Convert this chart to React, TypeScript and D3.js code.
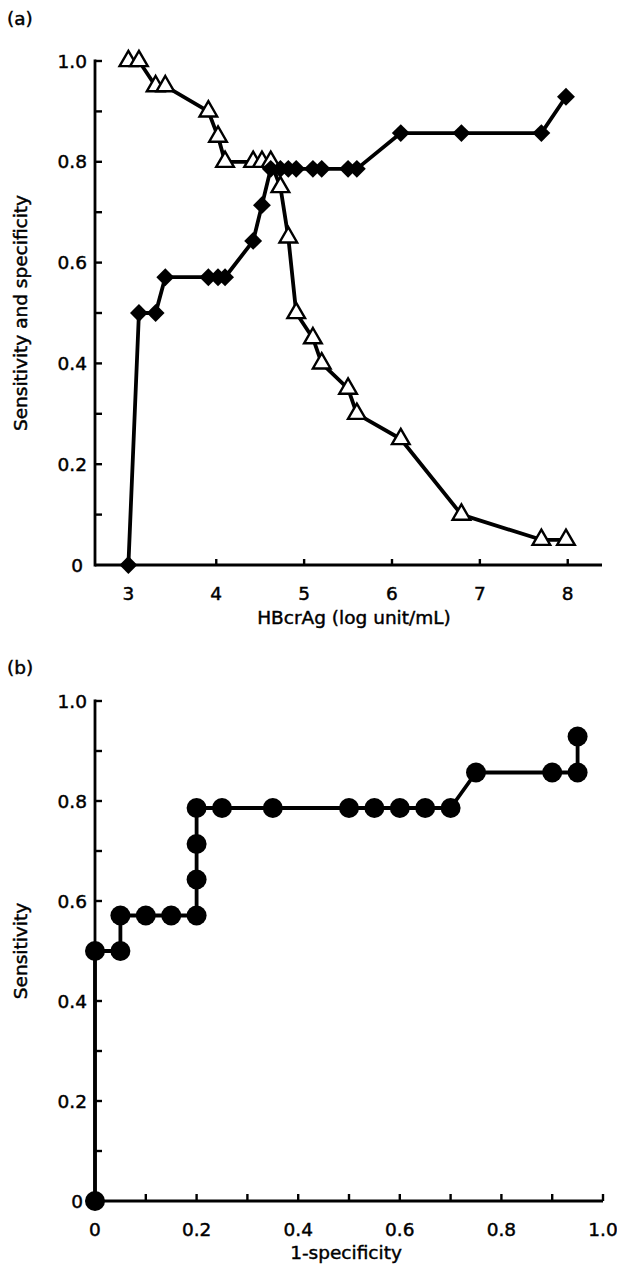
import React from 'react';
import * as d3 from 'd3';

// cut-off values (log unit/mL) shared by both curves of panel (a)
const cutoffs = [3.0, 3.12, 3.31, 3.42, 3.91, 4.02, 4.1, 4.42, 4.52, 4.62, 4.73, 4.82, 4.91, 5.1, 5.2, 5.5, 5.6, 6.1, 6.79, 7.7, 7.98];
const sensitivity = [0, 0.5, 0.5, 0.571, 0.571, 0.571, 0.571, 0.643, 0.714, 0.786, 0.786, 0.786, 0.786, 0.786, 0.786, 0.786, 0.786, 0.857, 0.857, 0.857, 0.929];
const specificity = [1.0, 1.0, 0.95, 0.95, 0.9, 0.85, 0.8, 0.8, 0.8, 0.8, 0.75, 0.65, 0.5, 0.45, 0.4, 0.35, 0.3, 0.25, 0.1, 0.05, 0.05];

const xTicksA = [3, 4, 5, 6, 7, 8];
const yTicks = [0, 0.1, 0.2, 0.3, 0.4, 0.5, 0.6, 0.7, 0.8, 0.9, 1.0];
const xTicksB = [0, 0.1, 0.2, 0.3, 0.4, 0.5, 0.6, 0.7, 0.8, 0.9, 1.0];

const FONT = '"DejaVu Sans", Arial, Helvetica, sans-serif';
const FS = 18.5;
const W = 617;
const H = 1267;

// scanned print look: slightly heavier glyphs
const txt = { fontSize: FS, fontFamily: FONT, fill: '#000', stroke: '#000', strokeWidth: 0.45 };

const fmtY = (v: number) => (v === 0 ? '0' : v.toFixed(1));
const isMajor = (v: number) => Math.abs(Math.round(v * 10) % 2) === 0;

const YAxis: React.FC<{ y: d3.ScaleLinear<number, number>; x0: number }> = ({ y, x0 }) => (
  <g>
    <line x1={x0} x2={x0} y1={y(0)} y2={y(1)} stroke="#000" strokeWidth={2.8} strokeLinecap="square" />
    {yTicks.map((t) => (
      <g key={t}>
        {t > 0 && <line x1={x0} x2={x0 + 7} y1={y(t)} y2={y(t)} stroke="#000" strokeWidth={2.4} />}
        {isMajor(t) && (
          <text x={x0 - (t === 0 ? 12 : 8)} y={y(t)} dy="0.36em" textAnchor="end" {...txt}>
            {fmtY(t)}
          </text>
        )}
      </g>
    ))}
  </g>
);

const App: React.FC = () => {
  // panel (a)
  const xa = d3.scaleLinear().domain([2.62, 8.39]).range([95, 602]);
  const ya = d3.scaleLinear().domain([0, 1]).range([565, 61]);
  // panel (b)
  const xb = d3.scaleLinear().domain([0, 1]).range([95, 603]);
  const yb = d3.scaleLinear().domain([0, 1]).range([1201, 701]);

  const sensPts = cutoffs.map((c, i) => [c, sensitivity[i]] as [number, number]);
  const specPts = cutoffs.map((c, i) => [c, specificity[i]] as [number, number]);
  const rocPts = cutoffs.map((_, i) => [1 - specificity[i], sensitivity[i]] as [number, number]);

  const lineA = d3.line<[number, number]>().x((d) => xa(d[0])).y((d) => ya(d[1]));
  const lineB = d3.line<[number, number]>().x((d) => xb(d[0])).y((d) => yb(d[1]));

  const tri = d3.symbol().type(d3.symbolTriangle).size(135)()!;
  const sq = d3.symbol().type(d3.symbolSquare).size(160)()!;

  return (
    <svg width={W} height={H} style={{ position: 'absolute', left: 0, top: 0, background: '#fff' }}>
      <rect width={W} height={H} fill="#fff" />

      {/* ---------- (a) ---------- */}
      <text x={7} y={25} {...txt}>(a)</text>
      <YAxis y={ya} x0={xa.range()[0]} />
      <line x1={xa.range()[0]} x2={xa.range()[1]} y1={ya(0)} y2={ya(0)} stroke="#000" strokeWidth={2.8} />
      {xTicksA.map((t) => (
        <g key={t}>
          <line x1={xa(t)} x2={xa(t)} y1={ya(0)} y2={ya(0) - 6} stroke="#000" strokeWidth={2.4} />
          <text x={xa(t)} y={ya(0) + 35} textAnchor="middle" {...txt}>{t}</text>
        </g>
      ))}
      <text x={354} y={624} textAnchor="middle" {...txt}>
        HBcrAg (log unit/mL)
      </text>
      <text transform={`translate(27,${(ya(0) + ya(1)) / 2}) rotate(-90)`} textAnchor="middle" {...txt}>
        Sensitivity and specificity
      </text>

      <path d={lineA(specPts)!} fill="none" stroke="#000" strokeWidth={3.8} strokeLinejoin="round" />
      <path d={lineA(sensPts)!} fill="none" stroke="#000" strokeWidth={3.8} strokeLinejoin="round" />
      {specPts.map((d, i) => (
        <path key={'t' + i} d={tri} transform={`translate(${xa(d[0])},${ya(d[1])})`} fill="#fff" stroke="#000" strokeWidth={2.4} />
      ))}
      {sensPts.map((d, i) => (
        <path key={'s' + i} d={sq} transform={`translate(${xa(d[0])},${ya(d[1])}) rotate(45)`} fill="#000" />
      ))}

      {/* ---------- (b) ---------- */}
      <text x={7} y={674} {...txt}>(b)</text>
      <YAxis y={yb} x0={xb.range()[0]} />
      <line x1={xb.range()[0]} x2={xb.range()[1]} y1={yb(0)} y2={yb(0)} stroke="#000" strokeWidth={2.8} />
      {xTicksB.map((t) => (
        <g key={t}>
          {t > 0 && <line x1={xb(t)} x2={xb(t)} y1={yb(0)} y2={yb(0) - 7} stroke="#000" strokeWidth={2.4} />}
          {isMajor(t) && (
            <text x={xb(t)} y={yb(0) + 35} textAnchor="middle" {...txt}>{fmtY(t)}</text>
          )}
        </g>
      ))}
      <text x={346} y={1259} textAnchor="middle" {...txt}>
        1-specificity
      </text>
      <text transform={`translate(27,${(yb(0) + yb(1)) / 2}) rotate(-90)`} textAnchor="middle" {...txt}>
        Sensitivity
      </text>

      <path d={lineB(rocPts)!} fill="none" stroke="#000" strokeWidth={3.8} strokeLinejoin="round" />
      {rocPts.map((d, i) => (
        <circle key={'c' + i} cx={xb(d[0])} cy={yb(d[1])} r={10} fill="#000" />
      ))}
    </svg>
  );
};

export default App;
